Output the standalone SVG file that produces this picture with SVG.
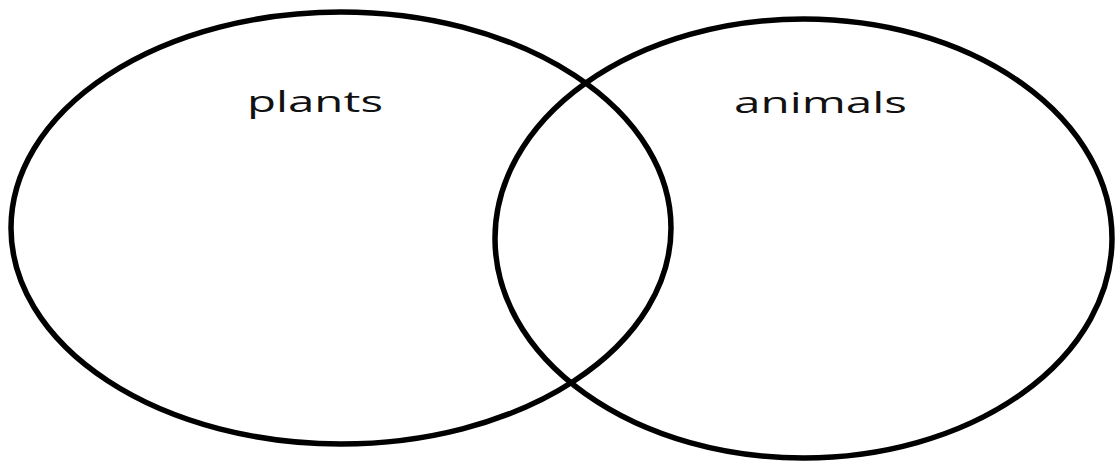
<svg xmlns="http://www.w3.org/2000/svg" width="1116" height="464" viewBox="0 0 1116 464">
<style>
.set{fill:none;stroke:#000;stroke-width:5.5}
.lbl{font-family:"Open Sans","Liberation Sans",sans-serif;font-size:29px;fill:#111}
</style>
<rect width="1116" height="464" fill="#fff"/>
<g id="plants">
<ellipse class="set" cx="341" cy="228" rx="330" ry="216"/>
<text class="lbl" x="247" y="112" textLength="136" lengthAdjust="spacingAndGlyphs">plants</text>
</g>
<g id="animals">
<ellipse class="set" cx="803.5" cy="238.5" rx="308.5" ry="219.5"/>
<text class="lbl" x="734" y="113" textLength="173" lengthAdjust="spacingAndGlyphs">animals</text>
</g>
<g id="connectors"/>
</svg>
